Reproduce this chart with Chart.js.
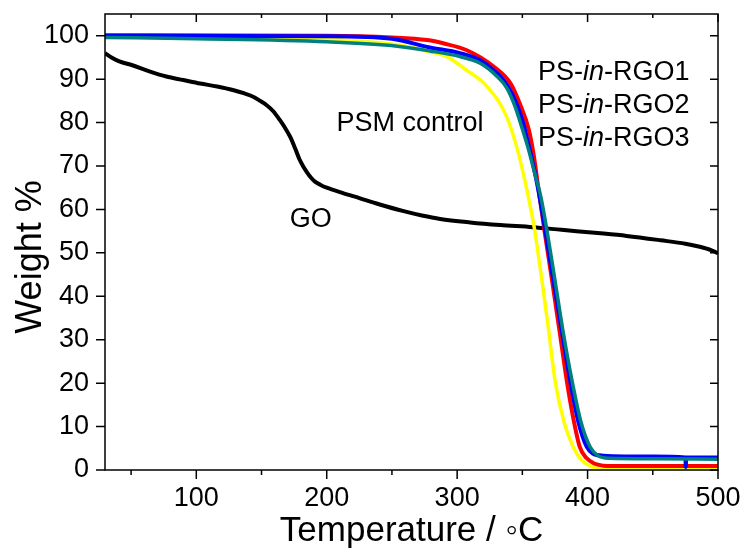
<!DOCTYPE html>
<html>
<head>
<meta charset="utf-8">
<script src="https://cdn.jsdelivr.net/npm/chart.js@4.4.0/dist/chart.umd.min.js"></script>
<style>
  body { margin: 0; background: #fff; }
  canvas { display: block; }
</style>
</head>
<body>
<canvas id="tgaChart" width="743" height="552"></canvas>
<script>
// tick values
const xTicks = [100, 200, 300, 400, 500];
const xMinorTicks = [50, 150, 250, 350, 450];
const yTicks = [0, 10, 20, 30, 40, 50, 60, 70, 80, 90, 100];

// GO (black)
const goTemp = [30, 35, 41, 51, 64, 77, 90, 103, 116, 128, 137, 144, 149, 154, 159, 164, 168, 172, 176, 179, 182, 185, 188, 191, 195, 200, 212, 225, 240, 259, 273, 287, 310, 333, 358, 380, 410, 430, 456, 475, 486, 495, 500];
const goWeight = [96.0, 95.0, 94.1, 93.2, 91.8, 90.6, 89.8, 89.0, 88.3, 87.5, 86.7, 85.9, 85.0, 84.0, 82.6, 80.6, 78.8, 76.7, 73.9, 71.6, 69.9, 68.5, 67.3, 66.4, 65.7, 65.0, 63.8, 62.6, 61.2, 59.6, 58.6, 57.8, 57.0, 56.4, 55.9, 55.3, 54.5, 53.9, 52.9, 52.1, 51.4, 50.6, 49.9];

// PSM control (yellow)
const psmTemp = [30, 100, 200, 254, 279, 292, 307, 323, 338, 347, 354.6, 359, 365, 370, 375, 382, 389, 395, 402, 410, 450, 500];
const psmWeight = [99.9, 99.7, 99.2, 97.9, 96.3, 95.2, 92.1, 88.3, 81.3, 72.9, 62.9, 56.0, 43.7, 32.5, 20.7, 11.0, 5.3, 2.4, 0.9, 0.3, 0.2, 0.2];

// PS-in-RGO1 (red)
const rgo1Temp = [30, 200, 250, 277, 290, 307, 328, 341, 348, 355, 358.5, 362.5, 367.5, 373, 378.5, 384, 389, 394, 399, 405, 412, 420, 500];
const rgo1Weight = [100.1, 100.0, 99.6, 99.0, 98.2, 96.7, 92.9, 89.0, 84.4, 78.3, 72.9, 64.4, 54.0, 43.2, 32.0, 20.7, 12.0, 5.3, 2.8, 1.5, 1.0, 0.9, 0.9];

// PS-in-RGO2 (blue)
const rgo2Temp = [30, 200, 250, 279, 302, 318, 330, 339, 346, 351, 355, 358.5, 362.3, 368, 373.8, 380, 386.6, 393, 399.4, 404, 412, 450, 475, 475.3, 475.6, 500];
const rgo2Weight = [100.0, 99.9, 99.3, 97.3, 96.0, 94.3, 91.5, 88.3, 84.0, 79.5, 74.5, 70.0, 64.4, 54.3, 43.7, 32.5, 20.7, 11.0, 5.3, 3.8, 3.3, 3.1, 2.9, 0.7, 2.9, 2.85];

// PS-in-RGO3 (teal)
const rgo3Temp = [30, 100, 200, 254, 279, 302, 318, 330, 338, 344, 350, 355, 359.5, 364.1, 369.5, 375, 381, 388, 395, 402, 408, 416, 450, 500];
const rgo3Weight = [99.6, 99.3, 98.6, 97.6, 96.5, 95.2, 93.6, 90.8, 88.0, 84.0, 78.5, 73.5, 68.3, 63.0, 54.0, 43.7, 32.3, 20.7, 11.0, 5.3, 3.3, 2.7, 2.6, 2.5];

function toPoints(xs, ys) {
    return xs.map(function (x, i) { return { x: x, y: ys[i] }; });
}

function curve(data, color, width) {
    return {
        data: data,
        borderColor: color,
        backgroundColor: color,
        borderWidth: width,
        pointRadius: 0,
        showLine: true,
        cubicInterpolationMode: 'monotone',
        fill: false
    };
}

const FONT = '"Liberation Sans", Arial, sans-serif';

// text labels inside the plot, anchored in data units (left edge, baseline)
const notes = [
    { parts: [['PSM control', false]], x: 207.5, y: 78.0 },
    { parts: [['GO', false]], x: 171.7, y: 56.0 },
    { parts: [['PS-', false], ['in', true], ['-RGO1', false]], x: 362, y: 89.7 },
    { parts: [['PS-', false], ['in', true], ['-RGO2', false]], x: 362, y: 82.2 },
    { parts: [['PS-', false], ['in', true], ['-RGO3', false]], x: 362, y: 74.7 }
];

const frameAndTicks = {
    id: 'frameAndTicks',
    afterDatasetsDraw(chart) {
        const ctx = chart.ctx;
        const a = chart.chartArea;
        const xs = chart.scales.x;
        const ys = chart.scales.y;
        ctx.save();
        ctx.fillStyle = '#000';
        ctx.textBaseline = 'alphabetic';
        ctx.textAlign = 'left';
        notes.forEach(function (n) {
            let px = xs.getPixelForValue(n.x);
            const py = ys.getPixelForValue(n.y);
            n.parts.forEach(function (p) {
                ctx.font = (p[1] ? 'italic ' : '') + '27px ' + FONT;
                ctx.fillText(p[0], px, py);
                px += ctx.measureText(p[0]).width;
            });
        });

        ctx.strokeStyle = '#000';
        ctx.lineWidth = 1.5;
        ctx.strokeRect(a.left, a.top, a.right - a.left, a.bottom - a.top);
        ctx.beginPath();
        xTicks.forEach(function (v) {
            const px = xs.getPixelForValue(v);
            ctx.moveTo(px, a.bottom); ctx.lineTo(px, a.bottom + 9);
            ctx.moveTo(px, a.top); ctx.lineTo(px, a.top + 8);
        });
        xMinorTicks.forEach(function (v) {
            const px = xs.getPixelForValue(v);
            ctx.moveTo(px, a.bottom); ctx.lineTo(px, a.bottom + 5);
            ctx.moveTo(px, a.top); ctx.lineTo(px, a.top + 4);
        });
        yTicks.forEach(function (v) {
            const py = ys.getPixelForValue(v);
            ctx.moveTo(a.left, py); ctx.lineTo(a.left - 9, py);
            ctx.moveTo(a.right, py); ctx.lineTo(a.right - 8, py);
        });
        ctx.stroke();
        ctx.restore();
    }
};

new Chart(document.getElementById('tgaChart'), {
    type: 'scatter',
    data: {
        datasets: [
            curve(toPoints(rgo3Temp, rgo3Weight), '#008080', 3.5),
            curve(toPoints(rgo2Temp, rgo2Weight), '#0000ff', 4),
            curve(toPoints(rgo1Temp, rgo1Weight), '#ff0000', 4),
            curve(toPoints(psmTemp, psmWeight), '#ffff00', 3.5),
            curve(toPoints(goTemp, goWeight), '#000000', 4)
        ]
    },
    options: {
        responsive: false,
        devicePixelRatio: 1,
        animation: false,
        layout: { padding: { top: 14, right: 25, left: 0, bottom: 0 } },
        plugins: { legend: { display: false }, tooltip: { enabled: false } },
        scales: {
            x: {
                type: 'linear',
                min: 30,
                max: 500,
                grid: { display: false, drawTicks: false },
                border: { display: false },
                afterBuildTicks: function (scale) {
                    scale.ticks = xTicks.map(function (v) { return { value: v }; });
                },
                afterFit: function (scale) {
                    scale.height = 82;
                    scale.paddingLeft = 0;
                    scale.paddingRight = 0;
                },
                ticks: { color: '#000', padding: 12, maxRotation: 0, font: { family: FONT, size: 27 } },
                title: {
                    display: true,
                    text: 'Temperature / \u25e6C',
                    color: '#000',
                    padding: { top: 0, bottom: 0 },
                    font: { family: FONT, size: 35 }
                }
            },
            y: {
                min: 0,
                max: 105,
                grid: { display: false, drawTicks: false },
                border: { display: false },
                afterBuildTicks: function (scale) {
                    scale.ticks = yTicks.map(function (v) { return { value: v }; });
                },
                afterFit: function (scale) {
                    scale.width = 105;
                    scale.paddingTop = 0;
                    scale.paddingBottom = 0;
                },
                ticks: { color: '#000', padding: 16, font: { family: FONT, size: 27 } },
                title: {
                    display: true,
                    text: 'Weight %\u00a0\u00a0\u00a0',
                    color: '#000',
                    padding: { top: 9, bottom: 0 },
                    font: { family: FONT, size: 36 }
                }
            }
        }
    },
    plugins: [frameAndTicks]
});
</script>
</body>
</html>
